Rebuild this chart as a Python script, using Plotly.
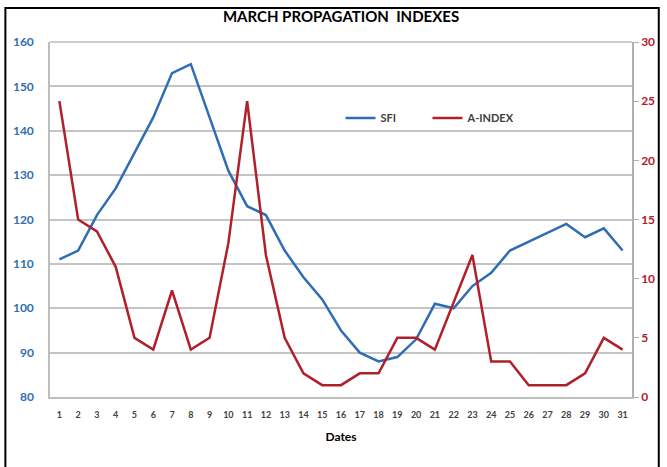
import plotly.graph_objects as go

dates = list(range(1, 32))
sfi = [111, 113, 121, 127, 135, 143, 153, 155, 143, 131, 123, 121, 113, 107, 102, 95,
       90, 88, 89, 93, 101, 100, 105, 108, 113, 115, 117, 119, 116, 118, 113]
a_index = [25, 15, 14, 11, 5, 4, 9, 4, 5, 13, 25, 12, 5, 2, 1, 1,
           2, 2, 5, 5, 4, 8, 12, 3, 3, 1, 1, 1, 2, 5, 4]
series_names = ["SFI", "A-INDEX"]

BLUE = "#2f6db5"
RED = "#b0202a"
FONT = "Lato"

W, H = 667, 467
ML, MR, MT, MB = 50, 30, 42, 70
PW, PH = W - ML - MR, H - MT - MB


def px(x):
    return (x - ML) / PW


def py(y):
    return (H - MB - y) / PH


fig = go.Figure()
fig.add_trace(go.Scatter(x=dates, y=sfi, mode="lines", name=f"<b>{series_names[0]}</b>",
                         line=dict(color=BLUE, width=2.5)))
fig.add_trace(go.Scatter(x=dates, y=a_index, mode="lines", name=f"<b>{series_names[1]}</b>",
                         line=dict(color=RED, width=2.5), yaxis="y2"))

fig.update_layout(
    width=W, height=H,
    margin=dict(l=ML, r=MR, t=MT, b=MB),
    paper_bgcolor="white", plot_bgcolor="white",
    font=dict(family=FONT),
    showlegend=True,
    legend=dict(orientation="h", x=px(343), y=py(118), xanchor="left", yanchor="middle",
                font=dict(size=11, color="#404040", family=FONT),
                bgcolor="rgba(0,0,0,0)", entrywidth=42, entrywidthmode="pixels"),
    title=dict(text="<b>MARCH PROPAGATION  INDEXES</b>", x=0.5, xref="paper",
               y=1 - 17 / H, yanchor="middle",
               font=dict(size=15, color="black", family=FONT)),
    xaxis=dict(range=[0.5, 31.5], tickmode="array", tickvals=dates,
               ticktext=[f"<b>{d}</b>" for d in dates],
               tickfont=dict(size=9, color="#404040", family=FONT),
               showgrid=False, showline=True, linecolor="#bdbdbd", linewidth=1.5,
               ticks="", zeroline=False, ticklabelstandoff=8,
               title=dict(text="<b>Dates</b>", font=dict(size=12, color="black", family=FONT),
                          standoff=14)),
    yaxis=dict(range=[80, 160], dtick=10, tickmode="linear",
               tickfont=dict(size=12, color=BLUE, family=FONT),
               showgrid=True, gridcolor="#c4c4c4", gridwidth=1.5,
               showline=True, linecolor="#bdbdbd", linewidth=1.5,
               ticks="", zeroline=False, ticklabelstandoff=12,
               tickprefix="<b>", ticksuffix="</b>"),
    yaxis2=dict(range=[0, 30], dtick=5, tickmode="linear", overlaying="y", side="right",
                tickfont=dict(size=12, color=RED, family=FONT),
                showgrid=False, showline=True, linecolor="#b0b0b0", linewidth=1.5,
                ticks="outside", ticklen=5, tickcolor="#b0b0b0", zeroline=False,
                tickprefix="<b>", ticksuffix="</b>"),
    shapes=[
        dict(type="rect", xref="paper", yref="paper",
             x0=px(5), x1=px(664), y0=py(470), y1=py(8),
             line=dict(color="black", width=2), fillcolor="rgba(0,0,0,0)", layer="below"),
        dict(type="line", xref="paper", yref="paper",
             x0=0, x1=1, y0=1, y1=1, line=dict(color="#bdbdbd", width=1.5)),
    ],
)

fig.write_html("out.html", config={"displayModeBar": False},
               post_script="document.body.style.margin='0';")
